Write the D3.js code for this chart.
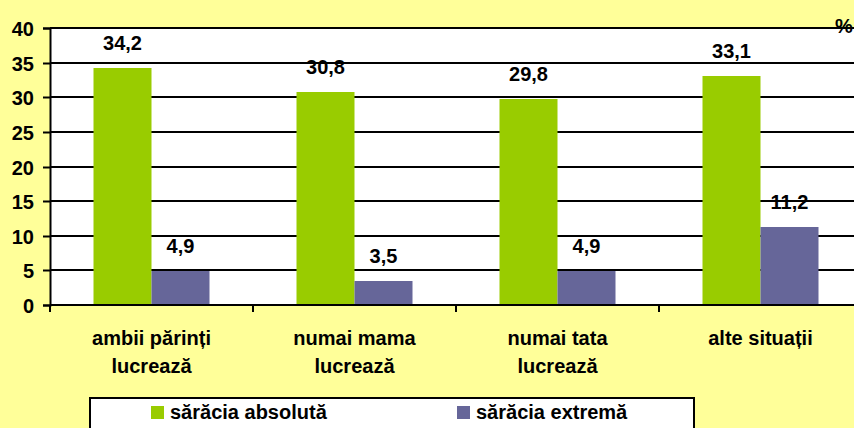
<!DOCTYPE html>
<html lang="ro">
<head>
  <meta charset="utf-8">
  <title>Sărăcia absolută și extremă</title>
  <style>
    body { margin: 0; background: #ffff99; }
    svg { display: block; font-family: "Liberation Sans", Arial, sans-serif; font-weight: bold; }
  </style>
  <script src="https://d3js.org/d3.v7.min.js"></script>
</head>
<body>
  <div id="chart"></div>
  <script>
    // categories (each label split into lines)
    const categories = ["ambii părinți lucrează", "numai mama lucrează", "numai tata lucrează", "alte situații"];
    const categoryLines = [["ambii părinți", "lucrează"], ["numai mama", "lucrează"], ["numai tata", "lucrează"], ["alte situații"]];
    const seriesNames = ["sărăcia absolută", "sărăcia extremă"];
    const absoluta = [34.2, 30.8, 29.8, 33.1];
    const extrema = [4.9, 3.5, 4.9, 11.2];
    const yTicks = [0, 5, 10, 15, 20, 25, 30, 35, 40];
    const colors = ["#99cc00", "#666699"];

    const width = 854, height = 428;
    const plotLeft = 50, plotRight = 862, plotTop = 28, plotBottom = 305;

    const svg = d3.select("#chart").append("svg")
      .attr("width", width)
      .attr("height", height);

    // background
    svg.append("rect").attr("width", width).attr("height", height).attr("fill", "#ffff99");

    const x0 = d3.scaleBand().domain(categories).range([plotLeft, plotRight]).padding(0);
    const x1 = d3.scaleBand().domain(seriesNames).range([0, x0.bandwidth()]).paddingInner(0).paddingOuter(0.75);
    const y = d3.scaleLinear().domain([0, 40]).rangeRound([plotBottom, plotTop]);

    // plot area
    svg.append("rect")
      .attr("x", plotLeft).attr("y", plotTop)
      .attr("width", plotRight - plotLeft).attr("height", plotBottom - plotTop)
      .attr("fill", "#ffffff");

    // gridlines
    svg.append("g").selectAll("line")
      .data(yTicks)
      .join("line")
      .attr("x1", plotLeft).attr("x2", plotRight)
      .attr("y1", d => y(d)).attr("y2", d => y(d))
      .attr("stroke", "#000").attr("stroke-width", 2);

    // bars
    const rows = categories.map((c, i) => ({ cat: c, values: [absoluta[i], extrema[i]] }));
    const groups = svg.append("g").selectAll("g")
      .data(rows)
      .join("g")
      .attr("transform", d => "translate(" + x0(d.cat) + ",0)");

    groups.selectAll("rect")
      .data(d => d.values.map((v, j) => ({ name: seriesNames[j], v: v, j: j })))
      .join("rect")
      .attr("x", d => x1(d.name))
      .attr("y", d => y(d.v))
      .attr("width", x1.bandwidth())
      .attr("height", d => y(0) - y(d.v))
      .attr("fill", d => colors[d.j]);

    // value labels
    groups.selectAll("text")
      .data(d => d.values.map((v, j) => ({ name: seriesNames[j], v: v })))
      .join("text")
      .attr("x", d => x1(d.name) + x1.bandwidth() / 2)
      .attr("y", d => y(d.v) - 18)
      .attr("text-anchor", "middle")
      .attr("font-size", 20)
      .text(d => d3.format(".1f")(d.v).replace(".", ","));

    // y axis
    const yAxis = svg.append("g")
      .attr("transform", "translate(" + plotLeft + ",0)")
      .call(d3.axisLeft(y).tickValues(yTicks).tickSize(7).tickPadding(9));
    yAxis.select(".domain").attr("stroke", "#000").attr("stroke-width", 2);
    yAxis.selectAll(".tick line").attr("stroke", "#000").attr("stroke-width", 2);
    yAxis.selectAll(".tick text")
      .attr("font-size", 20).attr("fill", "#000")
      .attr("dy", "0.36em");
    yAxis.attr("font-family", null).attr("font-size", null);

    // x axis line and category boundary ticks
    svg.append("line")
      .attr("x1", plotLeft).attr("x2", plotRight)
      .attr("y1", plotBottom).attr("y2", plotBottom)
      .attr("stroke", "#000").attr("stroke-width", 2);
    svg.append("g").selectAll("line")
      .data(categories)
      .join("line")
      .attr("x1", d => x0(d)).attr("x2", d => x0(d))
      .attr("y1", plotBottom).attr("y2", plotBottom + 7)
      .attr("stroke", "#000").attr("stroke-width", 2);

    // category labels
    svg.append("g").selectAll("text")
      .data(categories)
      .join("text")
      .attr("x", d => x0(d) + x0.bandwidth() / 2)
      .attr("y", 345)
      .attr("text-anchor", "middle")
      .attr("font-size", 20)
      .each(function (d, i) {
        d3.select(this).selectAll("tspan")
          .data(categoryLines[i])
          .join("tspan")
          .attr("x", x0(d) + x0.bandwidth() / 2)
          .attr("dy", (t, k) => k === 0 ? 0 : 27.5)
          .text(t => t);
      });

    // unit
    svg.append("text")
      .attr("x", 835).attr("y", 33)
      .attr("font-size", 20)
      .text("%");

    // legend
    const legend = svg.append("g");
    legend.append("rect")
      .attr("x", 90).attr("y", 398)
      .attr("width", 604).attr("height", 40)
      .attr("fill", "#fff").attr("stroke", "#000").attr("stroke-width", 2);
    const legendX = [151, 457];
    const items = legend.selectAll("g.item")
      .data(seriesNames)
      .join("g")
      .attr("class", "item")
      .attr("transform", (d, i) => "translate(" + legendX[i] + ",406)");
    items.append("rect")
      .attr("width", 13).attr("height", 13)
      .attr("fill", (d, i) => colors[i]);
    items.append("text")
      .attr("x", 19).attr("y", 13)
      .attr("font-size", 20)
      .text(d => d);
  </script>
</body>
</html>
